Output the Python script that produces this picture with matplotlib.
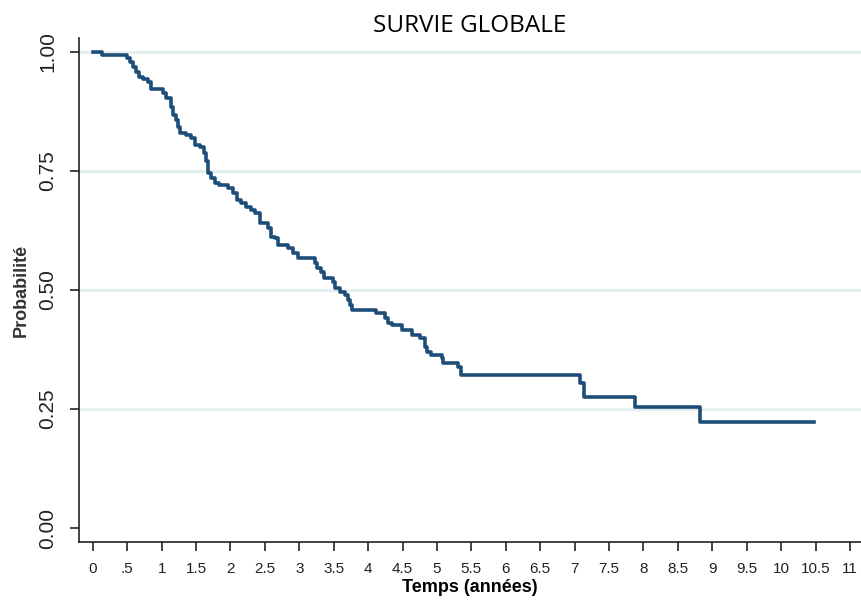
import numpy as np
import matplotlib
matplotlib.use("Agg")
import matplotlib.pyplot as plt

# Kaplan-Meier estimate (time in years, survival after the step)
temps = [0, 0.14, 0.49, 0.54, 0.585, 0.63, 0.67, 0.73, 0.80, 0.85,
         1.02, 1.07, 1.13, 1.17, 1.21, 1.24, 1.26, 1.36, 1.43, 1.48,
         1.56, 1.61, 1.64, 1.68, 1.72, 1.77, 1.84, 1.97, 2.04, 2.09,
         2.16, 2.23, 2.30, 2.35, 2.43, 2.55, 2.59, 2.64, 2.69, 2.84,
         2.91, 2.98, 3.23, 3.25, 3.32, 3.36, 3.49, 3.52, 3.59, 3.66,
         3.71, 3.74, 3.76, 4.12, 4.24, 4.29, 4.34, 4.49, 4.63, 4.75,
         4.83, 4.85, 4.92, 5.07, 5.09, 5.31, 5.35, 7.08, 7.13, 7.88,
         8.82, 10.47]
survie = [1.0, 0.994, 0.987, 0.980, 0.969, 0.959, 0.948, 0.943, 0.938, 0.922,
          0.913, 0.903, 0.885, 0.868, 0.857, 0.843, 0.829, 0.826, 0.819, 0.805,
          0.800, 0.787, 0.770, 0.745, 0.735, 0.725, 0.721, 0.714, 0.703, 0.689,
          0.682, 0.675, 0.668, 0.661, 0.640, 0.630, 0.612, 0.609, 0.595, 0.588,
          0.577, 0.567, 0.556, 0.546, 0.538, 0.525, 0.517, 0.504, 0.496, 0.489,
          0.479, 0.468, 0.458, 0.451, 0.441, 0.430, 0.426, 0.416, 0.405, 0.399,
          0.381, 0.370, 0.363, 0.357, 0.346, 0.339, 0.321, 0.305, 0.276, 0.255,
          0.223, 0.223]

xticks = np.arange(0, 11.01, 0.5)
xlabels = ["0", ".5"] + [("%g" % v) for v in xticks[2:]]
yticks = [0.0, 0.25, 0.5, 0.75, 1.0]
ylabels = ["0.00", "0.25", "0.50", "0.75", "1.00"]

fig = plt.figure(figsize=(8.61, 6.05), dpi=100)
ax = fig.add_axes([0.0918, 0.1041, 0.9082, 0.8331])

for y in yticks[1:]:
    ax.axhline(y, color="#e6eff0", lw=2.2, zorder=0)

ax.step(temps, survie, where="post", color="#1d4e7a", lw=2.6, zorder=3)

ax.set_xlim(-0.2, 11.16)
ax.set_ylim(-0.0294, 1.0294)

ax.set_xticks(xticks)
ax.set_xticklabels(xlabels, family=["Liberation Sans", "DejaVu Sans"], fontsize=11, color="#222222")
ax.set_yticks(yticks)
ax.set_yticklabels(ylabels, rotation=90, va="center", family=["Liberation Sans", "DejaVu Sans"],
                   fontsize=15, color="#333333")
ax.tick_params(axis="both", direction="out", length=6.5, width=1.2, colors="#222222")
ax.tick_params(axis="x", pad=8)
ax.tick_params(axis="y", pad=9)

for s in ["top", "right"]:
    ax.spines[s].set_visible(False)
ax.spines["left"].set_color("#222222")
ax.spines["bottom"].set_color("#222222")
ax.spines["left"].set_linewidth(1.2)
ax.spines["bottom"].set_linewidth(1.2)

ax.set_xlabel("Temps (années)", fontsize=13, fontweight="bold",
              family=["Liberation Sans", "DejaVu Sans"], labelpad=2)
ax.set_ylabel("Probabilité", fontsize=13, fontweight="bold", color="#333333",
              family=["Liberation Sans", "DejaVu Sans"], labelpad=6)
ax.set_title("SURVIE GLOBALE", fontsize=17.5, family=["Open Sans", "DejaVu Sans"], pad=3)

fig.savefig("out.png", dpi=100)
